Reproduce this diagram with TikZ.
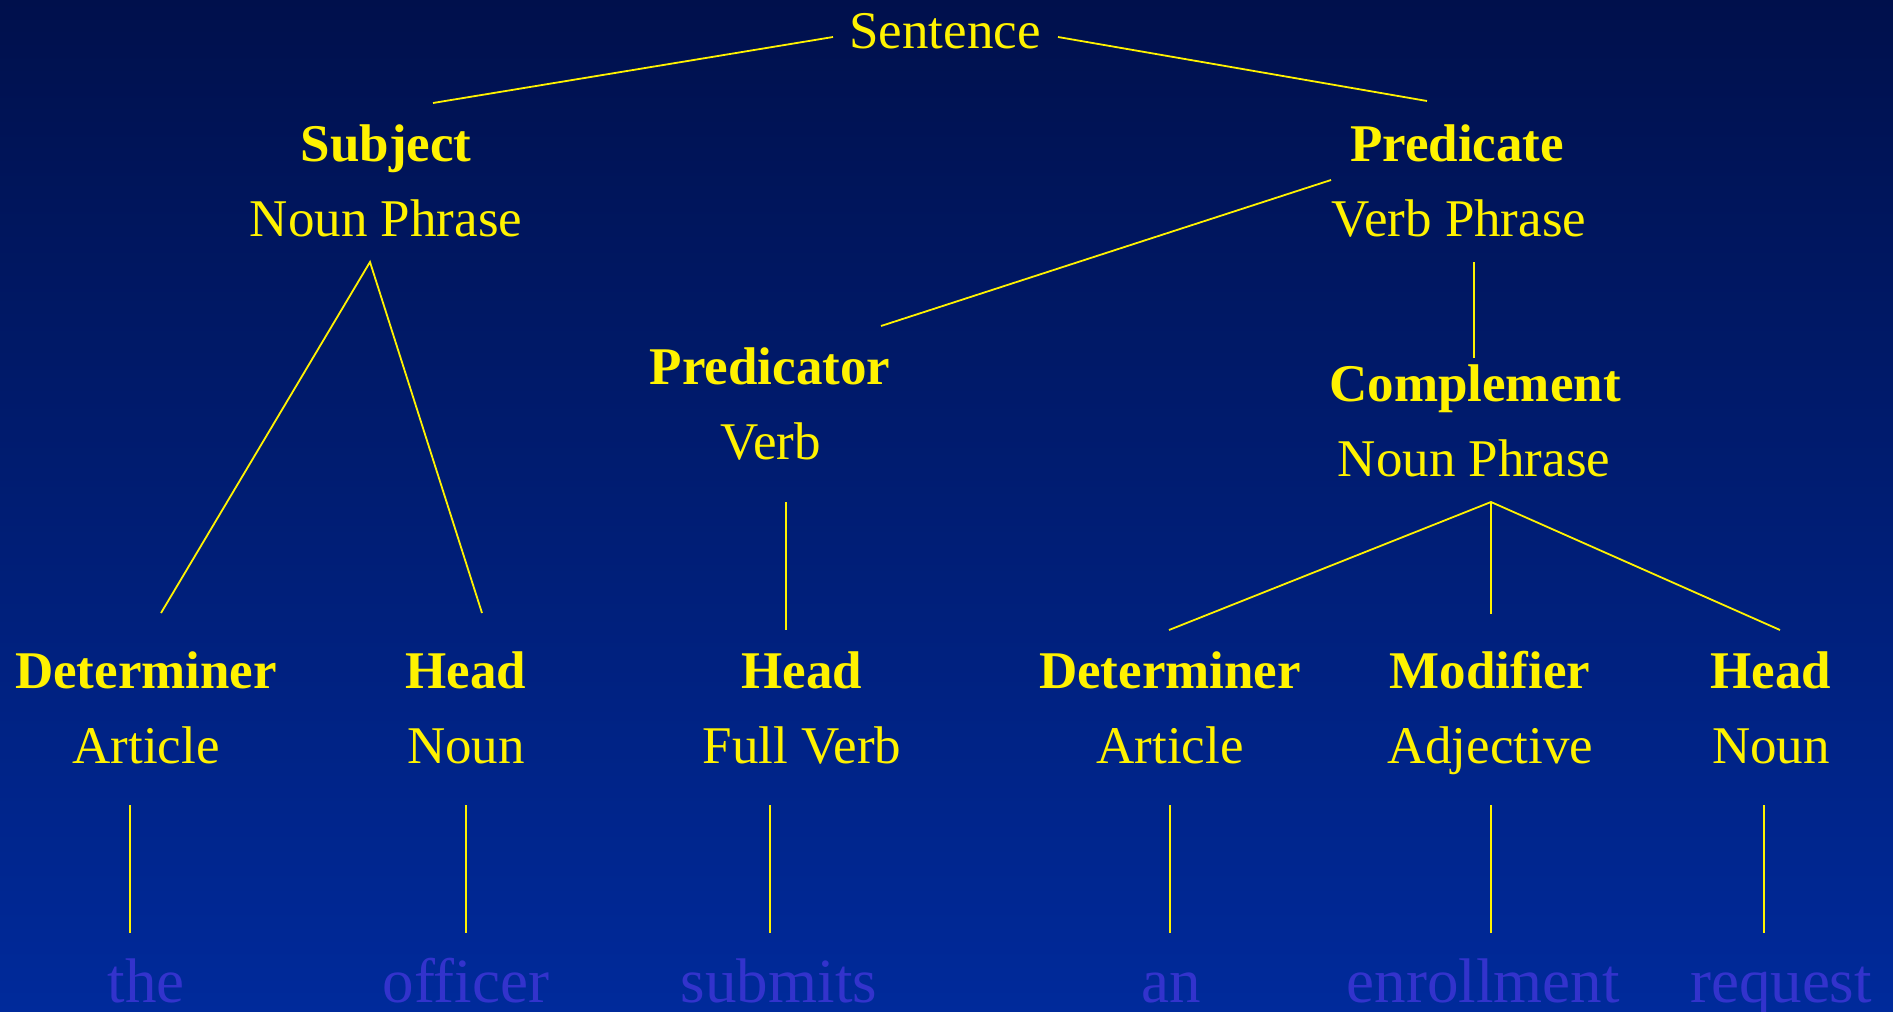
\documentclass[tikz,border=0pt]{standalone}
\usepackage{fontspec}
\setmainfont{Liberation Serif}
\definecolor{bgtop}{RGB}{0,16,76}
\definecolor{bgbot}{RGB}{0,42,155}
\definecolor{wordblue}{RGB}{51,51,204}
\tikzset{
  lbl/.style={anchor=base, inner sep=0pt, text=yellow, font=\fontsize{53}{60}\selectfont\bfseries},
  cat/.style={anchor=base, inner sep=0pt, text=yellow, font=\fontsize{53}{60}\selectfont},
  word/.style={anchor=base, inner sep=0pt, text=wordblue, font=\fontsize{63}{70}\selectfont},
  branch/.style={draw=yellow, line width=1.8pt},
}
\begin{document}
\begin{tikzpicture}[x=1pt, y=-1pt]
  \useasboundingbox (0,0) rectangle (1893,1012);
  \shade[top color=bgtop, bottom color=bgbot] (0,0) rectangle (1893,1012);

  % root
  \node[cat] (sent) at (945,48) {Sentence};

  % first level
  \node[lbl] (subj)    at (386,161) {Subject};
  \node[cat] (subjcat) at (386,236) {Noun Phrase};
  \node[lbl] (pred)    at (1457,161) {Predicate};
  \node[cat] (predcat) at (1459,236) {Verb Phrase};

  % second level
  \node[lbl] (prdr)    at (770,384) {Predicator};
  \node[cat] (prdrcat) at (771,459) {Verb};
  \node[lbl] (comp)    at (1475,401) {Complement};
  \node[cat] (compcat) at (1474,476) {Noun Phrase};

  % word level functions and classes
  \node[lbl] (detA)    at (146,688) {Determiner};
  \node[cat] (detAcat) at (146,763) {Article};
  \node[lbl] (headA)   at (466,688) {Head};
  \node[cat] (headAcat) at (466,763) {Noun};
  \node[lbl] (headB)   at (802,688) {Head};
  \node[cat] (headBcat) at (802,763) {Full Verb};
  \node[lbl] (detB)    at (1170,688) {Determiner};
  \node[cat] (detBcat) at (1170,763) {Article};
  \node[lbl] (modC)    at (1490,688) {Modifier};
  \node[cat] (modCcat) at (1490,763) {Adjective};
  \node[lbl] (headC)   at (1771,688) {Head};
  \node[cat] (headCcat) at (1771,763) {Noun};

  % the words
  \node[word] (w1) at (146,1002) {the};
  \node[word] (w2) at (466,1002) {officer};
  \node[word] (w3) at (779,1002) {submits};
  \node[word] (w4) at (1171,1002) {an};
  \node[word] (w5) at (1483,1002) {enrollment};
  \node[word] (w6) at (1781,1002) {request};

  % branch end points
  \coordinate (sentL) at (833,37);
  \coordinate (sentR) at (1058,37);
  \coordinate (subjTop) at (433,103);
  \coordinate (predTop) at (1427,101);
  \coordinate (predFootL) at (1331,180);
  \coordinate (predFoot) at (1474,262);
  \coordinate (prdrTop) at (881,326);
  \coordinate (compTop) at (1474,358);
  \coordinate (subjFoot) at (370,262);
  \coordinate (detATop) at (161,613);
  \coordinate (headATop) at (482,613);
  \coordinate (prdrFoot) at (786,502);
  \coordinate (headBTop) at (786,630);
  \coordinate (compFoot) at (1491,502);
  \coordinate (detBTop) at (1169,630);
  \coordinate (modCTop) at (1491,614);
  \coordinate (headCTop) at (1780,630);

  \draw[branch] (sentL) -- (subjTop);
  \draw[branch] (sentR) -- (predTop);
  \draw[branch] (predFootL) -- (prdrTop);
  \draw[branch] (predFoot) -- (compTop);
  \draw[branch] (detATop) -- (subjFoot) -- (headATop);
  \draw[branch] (prdrFoot) -- (headBTop);
  \draw[branch] (detBTop) -- (compFoot) -- (headCTop);
  \draw[branch] (compFoot) -- (modCTop);

  % links from word classes down to the words
  \foreach \n/\x in {w1/130, w2/466, w3/770, w4/1170, w5/1491, w6/1764} {
    \coordinate (\n foot) at (\x,805);
    \coordinate (\n head) at (\x,933);
    \draw[branch] (\n foot) -- (\n head);
  }
\end{tikzpicture}
\end{document}
